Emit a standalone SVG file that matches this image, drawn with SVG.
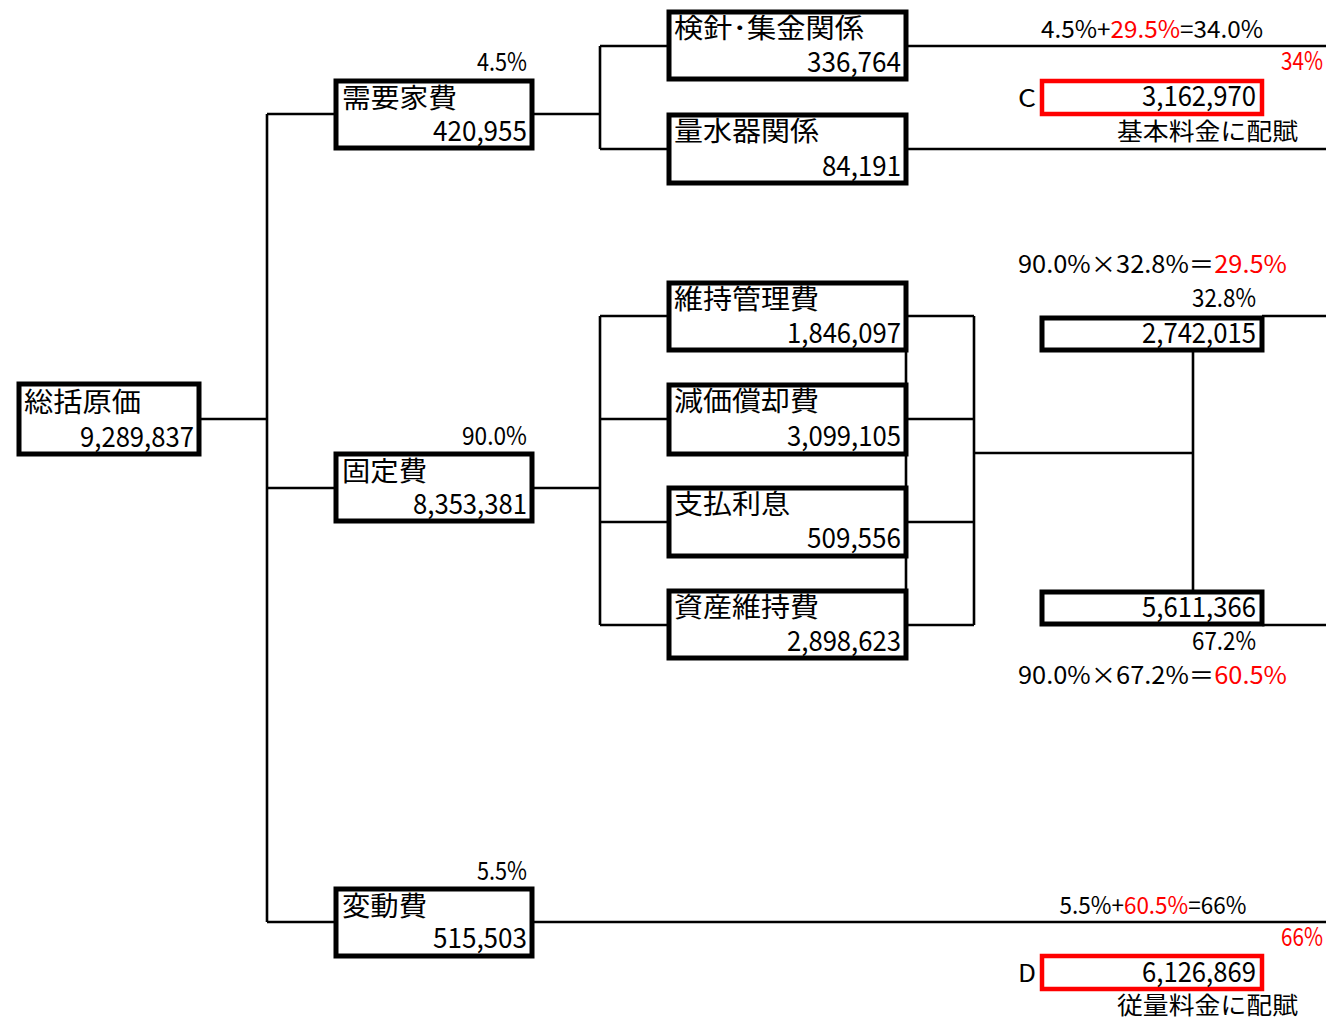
<svg xmlns="http://www.w3.org/2000/svg" width="1326" height="1024" viewBox="0 0 1326 1024">
<style>
.bx{fill:#fff;stroke:#000;stroke-width:5}
.rb{fill:#fff;stroke:#f00;stroke-width:4.5}
.ln{fill:none;stroke:#000;stroke-width:2.6}
text{font-family:"Noto Sans CJK JP","Noto Sans",sans-serif;fill:#000}
.j{font-size:27px}
.n{font-size:28px;text-anchor:end}
.p{font-size:25px;text-anchor:end}
.f{font-size:24px}
.r{fill:#f00}
</style>
<rect width="1326" height="1024" fill="#fff"/>
<g id="connectors">
<path class="ln" d="M201 419H267M267 114V922M267 114H336M267 488H336M267 922H336"/>
<path class="ln" d="M532 114H600M600 46V149M600 46H669M600 149H669"/>
<path class="ln" d="M906 46H1326M906 149H1326"/>
<path class="ln" d="M532 488H600M600 316V625M600 316H669M600 419H669M600 522H669M600 625H669"/>
<path class="ln" d="M906 316V625M906 316H974M906 419H974M906 522H974M906 625H974M974 316V625M974 453H1193M1193 352V590"/>
<path class="ln" d="M1262 316H1326M1262 625H1326"/>
<path class="ln" d="M532 922H1326"/>
</g>
<g id="n-total">
<rect class="bx" x="19" y="384" width="180" height="70"/>
<text class="j" x="24" y="412" textLength="117" lengthAdjust="spacingAndGlyphs">総括原価</text>
<text class="n" x="194" y="447" textLength="114" lengthAdjust="spacingAndGlyphs">9,289,837</text>
</g>
<g id="n-juyoka">
<rect class="bx" x="336" y="81" width="196" height="67"/>
<text class="p" x="527" y="71" textLength="50" lengthAdjust="spacingAndGlyphs">4.5%</text>
<text class="j" x="342" y="108" textLength="115" lengthAdjust="spacingAndGlyphs">需要家費</text>
<text class="n" x="527" y="141" textLength="94" lengthAdjust="spacingAndGlyphs">420,955</text>
</g>
<g id="n-kenshin">
<rect class="bx" x="669" y="12" width="237" height="67"/>
<text class="j" x="674" y="38" textLength="190" lengthAdjust="spacingAndGlyphs">検針･集金関係</text>
<text class="n" x="901" y="72" textLength="94" lengthAdjust="spacingAndGlyphs">336,764</text>
</g>
<g id="n-ryosuiki">
<rect class="bx" x="669" y="115" width="237" height="68"/>
<text class="j" x="674" y="141" textLength="145" lengthAdjust="spacingAndGlyphs">量水器関係</text>
<text class="n" x="901" y="176" textLength="79" lengthAdjust="spacingAndGlyphs">84,191</text>
</g>
<g id="n-c">
<text class="f" x="1152" y="38" text-anchor="middle" textLength="222" lengthAdjust="spacingAndGlyphs">4.5%+<tspan class="r">29.5%</tspan>=34.0%</text>
<text class="p r" x="1323" y="70" textLength="42" lengthAdjust="spacingAndGlyphs">34%</text>
<text class="f" x="1018" y="107" textLength="18" lengthAdjust="spacingAndGlyphs">C</text>
<rect class="rb" x="1042" y="81" width="220" height="33"/>
<text class="n" x="1256" y="106" textLength="114" lengthAdjust="spacingAndGlyphs">3,162,970</text>
<text class="f" x="1298" y="140" text-anchor="end" textLength="181" lengthAdjust="spacingAndGlyphs">基本料金に配賦</text>
</g>
<g id="n-kotei">
<rect class="bx" x="336" y="454" width="196" height="67"/>
<text class="p" x="527" y="445" textLength="65" lengthAdjust="spacingAndGlyphs">90.0%</text>
<text class="j" x="342" y="481" textLength="85" lengthAdjust="spacingAndGlyphs">固定費</text>
<text class="n" x="527" y="514" textLength="114" lengthAdjust="spacingAndGlyphs">8,353,381</text>
</g>
<g id="n-iji">
<rect class="bx" x="669" y="283" width="237" height="67"/>
<text class="j" x="674" y="309" textLength="145" lengthAdjust="spacingAndGlyphs">維持管理費</text>
<text class="n" x="901" y="343" textLength="114" lengthAdjust="spacingAndGlyphs">1,846,097</text>
</g>
<g id="n-genka">
<rect class="bx" x="669" y="385" width="237" height="69"/>
<text class="j" x="674" y="411" textLength="145" lengthAdjust="spacingAndGlyphs">減価償却費</text>
<text class="n" x="901" y="446" textLength="114" lengthAdjust="spacingAndGlyphs">3,099,105</text>
</g>
<g id="n-shiharai">
<rect class="bx" x="669" y="488" width="237" height="68"/>
<text class="j" x="674" y="514" textLength="116" lengthAdjust="spacingAndGlyphs">支払利息</text>
<text class="n" x="901" y="548" textLength="94" lengthAdjust="spacingAndGlyphs">509,556</text>
</g>
<g id="n-shisan">
<rect class="bx" x="669" y="591" width="237" height="67"/>
<text class="j" x="674" y="617" textLength="145" lengthAdjust="spacingAndGlyphs">資産維持費</text>
<text class="n" x="901" y="651" textLength="114" lengthAdjust="spacingAndGlyphs">2,898,623</text>
</g>
<g id="n-328">
<text class="f" x="1018" y="273" textLength="269" lengthAdjust="spacingAndGlyphs">90.0%×32.8%＝<tspan class="r">29.5%</tspan></text>
<text class="p" x="1256" y="307" textLength="64" lengthAdjust="spacingAndGlyphs">32.8%</text>
<rect class="bx" x="1042" y="318" width="220" height="32"/>
<text class="n" x="1256" y="343" textLength="114" lengthAdjust="spacingAndGlyphs">2,742,015</text>
</g>
<g id="n-672">
<rect class="bx" x="1042" y="592" width="220" height="32"/>
<text class="n" x="1256" y="617" textLength="114" lengthAdjust="spacingAndGlyphs">5,611,366</text>
<text class="p" x="1256" y="650" textLength="64" lengthAdjust="spacingAndGlyphs">67.2%</text>
<text class="f" x="1018" y="684" textLength="269" lengthAdjust="spacingAndGlyphs">90.0%×67.2%＝<tspan class="r">60.5%</tspan></text>
</g>
<g id="n-hendo">
<rect class="bx" x="336" y="889" width="196" height="67"/>
<text class="p" x="527" y="880" textLength="50" lengthAdjust="spacingAndGlyphs">5.5%</text>
<text class="j" x="342" y="916" textLength="85" lengthAdjust="spacingAndGlyphs">変動費</text>
<text class="n" x="527" y="948" textLength="94" lengthAdjust="spacingAndGlyphs">515,503</text>
</g>
<g id="n-d">
<text class="f" x="1153" y="914" text-anchor="middle" textLength="187" lengthAdjust="spacingAndGlyphs">5.5%+<tspan class="r">60.5%</tspan>=66%</text>
<text class="p r" x="1323" y="946" textLength="42" lengthAdjust="spacingAndGlyphs">66%</text>
<text class="f" x="1018" y="982" textLength="18" lengthAdjust="spacingAndGlyphs">D</text>
<rect class="rb" x="1042" y="956" width="220" height="33"/>
<text class="n" x="1256" y="982" textLength="114" lengthAdjust="spacingAndGlyphs">6,126,869</text>
<text class="f" x="1298" y="1014" text-anchor="end" textLength="181" lengthAdjust="spacingAndGlyphs">従量料金に配賦</text>
</g>
</svg>
